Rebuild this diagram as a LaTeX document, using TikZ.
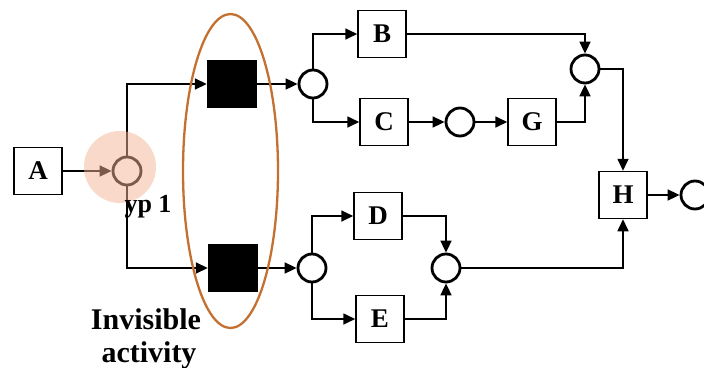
\documentclass[tikz,border=0pt]{standalone}
\usepackage{fontspec}
\setmainfont{Liberation Serif}
\usetikzlibrary{arrows.meta,shapes.geometric}
\definecolor{ovalc}{RGB}{196,112,48}
\definecolor{peach}{RGB}{245,180,150}
\begin{document}
\begin{tikzpicture}[x=1pt,y=-1pt,
  box/.style={draw, line width=1.5pt, minimum width=48pt, minimum height=47pt, inner sep=0pt,
    font=\fontsize{27}{27}\selectfont\bfseries},
  blk/.style={fill=black, minimum width=50pt, minimum height=48pt, inner sep=0pt},
  place/.style={circle, draw, line width=2.8pt, minimum size=28pt, inner sep=0pt},
  arr/.style={-{Triangle[length=12pt,width=11pt]}, line width=1.7pt},
  ln/.style={line width=1.7pt}]
\useasboundingbox (0,0) rectangle (704,367);
\fill[white] (0,0) rectangle (704,367);

\node[box] (A) at (38,171) {A};
\node[place] (p1) at (127,171) {};
\node[blk] (s1) at (232,84) {};
\node[blk] (s2) at (233,268) {};
\node[place] (c1) at (313,84) {};
\node[place] (c2) at (312,268) {};
\node[box] (B) at (382,34) {B};
\node[box] (C) at (384,122) {C};
\node[place] (m) at (460,122) {};
\node[box] (G) at (532,122) {G};
\node[place] (j1) at (585,69) {};
\node[box] (D) at (378,216) {D};
\node[box] (E) at (380,319) {E};
\node[place] (j2) at (446,268) {};
\node[box] (H) at (623,195) {H};
\node[place] (z) at (695,195) {};

\draw[arr] (A) -- (p1);
\draw[arr] (p1.north) |- (s1.west);
\draw[arr] (p1.south) |- (s2.west);
\draw[arr] (s1) -- (c1);
\draw[arr] (s2) -- (c2);
\draw[arr] (c1.north) |- (B.west);
\draw[arr] (c1.south) |- (C.west);
\draw[arr] (C) -- (m);
\draw[arr] (m) -- (G);
\draw[arr] (B.east) -| (j1.north);
\draw[arr] (G.east) -| (j1.south);
\draw[arr] (j1.east) -| (H.north);
\draw[arr] (c2.north) |- (D.west);
\draw[arr] (c2.south) |- (E.west);
\draw[arr] (D.east) -| (j2.north);
\draw[arr] (E.east) -| (j2.south);
\draw[arr] (j2.east) -| (H.south);
\draw[arr] (H) -- (z);

\fill[peach, opacity=0.5] (120,167) circle [radius=36];
\draw[ovalc, line width=2.3pt] (230.5,171) ellipse [x radius=47.5, y radius=157];

\node[anchor=base, font=\fontsize{26}{26}\selectfont\bfseries] (lbl) at (148,212) {yp 1};
\node[anchor=base, font=\fontsize{30}{30}\selectfont\bfseries] (inv1) at (146,329) {Invisible};
\node[anchor=base, font=\fontsize{30}{30}\selectfont\bfseries] (inv2) at (149,362) {activity};
\end{tikzpicture}
\end{document}
